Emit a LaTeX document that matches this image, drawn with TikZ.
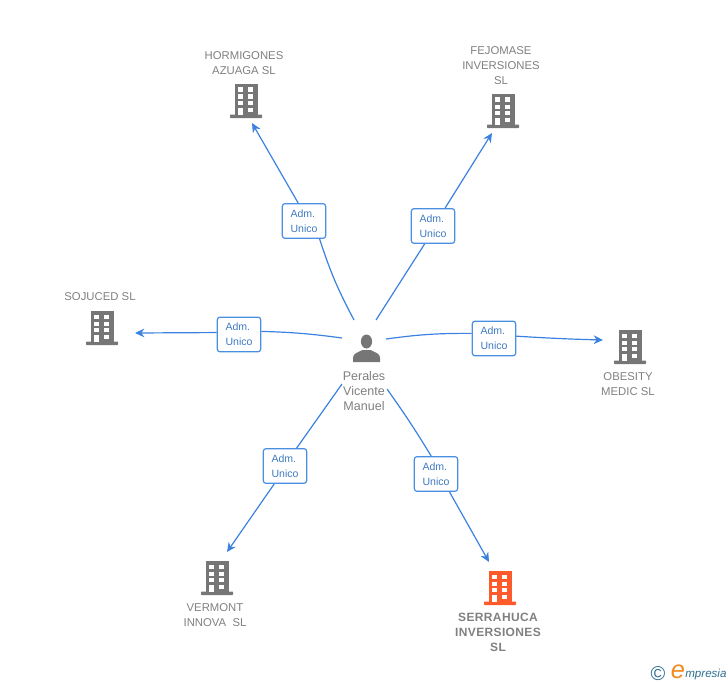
\documentclass[tikz,border=0pt]{standalone}
\usepackage{fontspec}
\setmainfont{Liberation Sans}
\usetikzlibrary{arrows.meta}
\definecolor{linkblue}{HTML}{3B82E0}
\definecolor{boxblue}{HTML}{4A90E2}
\definecolor{txtgray}{HTML}{808080}
\definecolor{icongray}{HTML}{767676}
\definecolor{orangeb}{HTML}{FF5A2B}
\definecolor{logoteal}{HTML}{2F6F8F}
\definecolor{logoorange}{HTML}{F08A1D}
\tikzset{
  x=0.75pt,y=-0.75pt,
  link/.style={draw=linkblue,line width=0.9pt},
  arrowlink/.style={link,-{Stealth[length=7pt,width=6.5pt]}},
  rolebox/.style={draw=boxblue,line width=0.9pt,rounded corners=2pt,fill=white,minimum width=32.5pt,minimum height=26pt,
    inner sep=0pt,align=left,text=boxblue!85!black,font=\fontsize{7.9pt}{11.25pt}\selectfont},
  company/.style={align=center,text=txtgray,inner sep=0pt,font=\fontsize{8.5pt}{11.25pt}\selectfont},
  main company/.style={align=center,text=txtgray,inner sep=0pt,font=\fontsize{9pt}{11.25pt}\selectfont\bfseries\addfontfeature{LetterSpace=3}},
  person label/.style={align=center,text=txtgray,inner sep=0pt,font=\fontsize{9.4pt}{11.25pt}\selectfont},
  bldg/.pic={
    \fill[pic actions] (-11,-16) rectangle (11.5,15);
    \fill[pic actions,rounded corners=0.5pt] (-16,14.5) rectangle (16,18);
    \foreach \yy in {-12.5,-5.5,1,7.7}{
      \fill[white] (2,\yy) rectangle (7,\yy+4.2);
    }
    \foreach \yy in {-12.5,-5.5,1}{
      \fill[white] (-8,\yy) rectangle (-3,\yy+4.2);
    }
    \fill[white] (-8,7.7) rectangle (-3,15);
  },
}
\begin{document}
\begin{tikzpicture}
\useasboundingbox (0,0) rectangle (728,685);

% buildings
\pic[fill=icongray] at (246,100) {bldg};
\pic[fill=icongray] at (503,110) {bldg};
\pic[fill=icongray] at (102,327) {bldg};
\pic[fill=icongray] at (630,346) {bldg};
\pic[fill=icongray] at (217,577) {bldg};
\pic[fill=orangeb] at (500,587) {bldg};

% person icon
\fill[icongray] (366.5,341.5) ellipse (5.6 and 7);
\fill[icongray] (353,362) -- (353,357.5) .. controls (353,353.5) and (358,352.5) .. (362.5,350)
  -- (370.5,350) .. controls (375,352.5) and (380,353.5) .. (380,357.5) -- (380,362) -- cycle;

% texts
\node[company] (nH) at (244,63) {HORMIGONES\\AZUAGA SL};
\node[company] (nF) at (501,65.5) {FEJOMASE\\INVERSIONES\\SL};
\node[company] (nS) at (100,296.5) {SOJUCED SL};
\node[company] (nO) at (628,384) {OBESITY\\MEDIC SL};
\node[company] (nV) at (215,615) {VERMONT\\INNOVA\ \ SL};
\node[main company] (nR) at (498,632) {SERRAHUCA\\INVERSIONES\\SL};
\node[person label] (nP) at (364,391) {Perales\\Vicente\\Manuel};

% hub ends and arrow ends
\coordinate (hH) at (354,320);
\coordinate (hF) at (376,320);
\coordinate (hS) at (342,338);
\coordinate (hO) at (386,339);
\coordinate (hV) at (342,384);
\coordinate (hR) at (387,389);
\coordinate (tH) at (252,123);
\coordinate (tF) at (492,133);
\coordinate (tS) at (135,333);
\coordinate (tO) at (603,340);
\coordinate (tV) at (227,552);
\coordinate (tR) at (489,562);

% role boxes
\node[rolebox] (lH) at (304,221) {Adm.\\Unico};
\node[rolebox] (lF) at (433,226) {Adm.\\Unico};
\node[rolebox] (lS) at (239,334.5) {Adm.\\Unico};
\node[rolebox] (lO) at (494,338.5) {Adm.\\Unico};
\node[rolebox] (lV) at (285,466) {Adm.\\Unico};
\node[rolebox] (lR) at (436,474) {Adm.\\Unico};

% connectors
\draw[link] (hH) to[bend left=5] (lH.-49);
\draw[arrowlink] (lH.108) -- (tH);
\draw[link] (hF) -- (lF.245);
\draw[arrowlink] (lF.56) -- (tF);
\draw[link] (hS) to[bend right=3] (lS.8);
\draw[arrowlink] (lS.175) -- (tS);
\draw[link] (hO) to[bend left=4] (lO.167);
\draw[arrowlink] (lO.6) to[bend right=1] (tO);
\draw[link] (hV) -- (lV.57);
\draw[arrowlink] (lV.239) -- (tV);
\draw[link] (hR) to[bend left=2] (lR.105);
\draw[arrowlink] (lR.-53) -- (tR);

% logo
\node[inner sep=0pt,text=logoteal,font=\fontsize{15pt}{15pt}\selectfont] (logoC) at (658,674) {©};
\node[inner sep=0pt,text=logoorange,font=\fontsize{19pt}{19pt}\selectfont\itshape] (logoE) at (678,672) {e};
\node[inner sep=0pt,anchor=west,text=logoteal,font=\fontsize{8.7pt}{10pt}\selectfont\itshape] (logoW) at (685,674) {mpresia};
\end{tikzpicture}
\end{document}
